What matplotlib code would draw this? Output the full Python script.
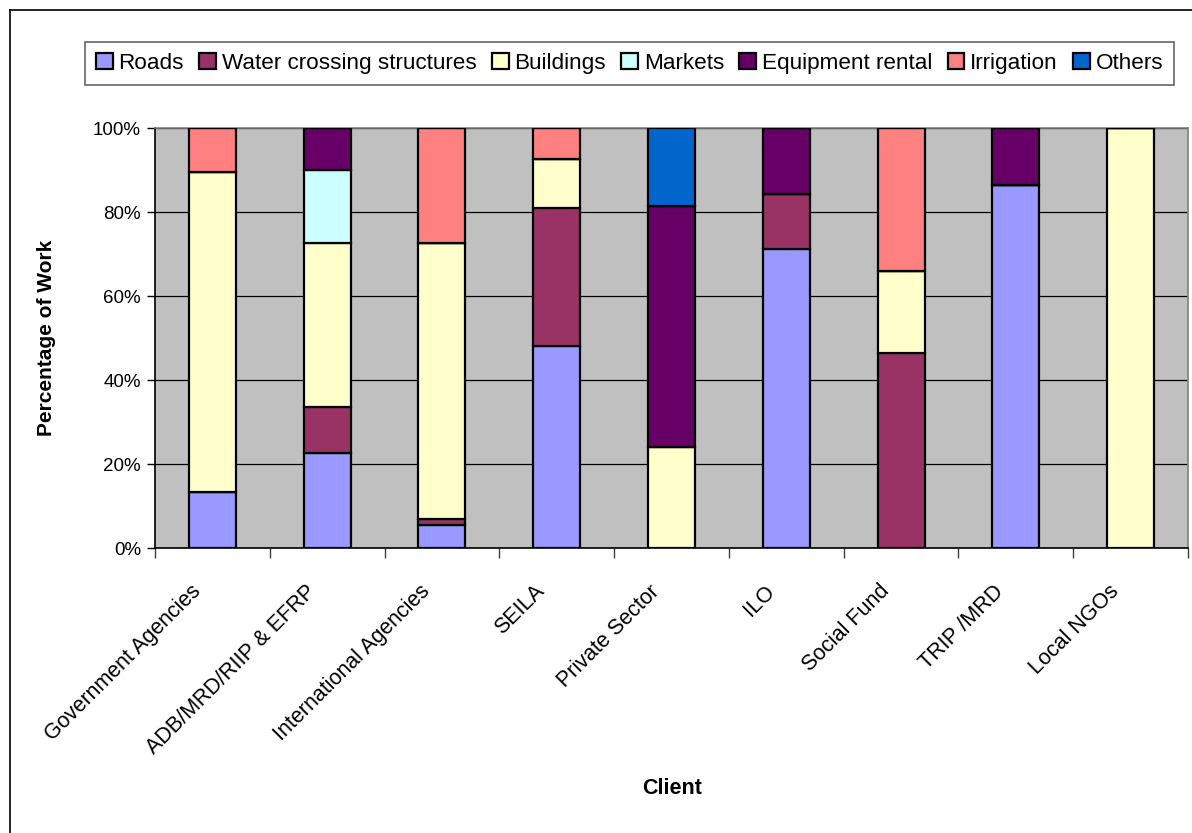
import matplotlib
matplotlib.use("Agg")
import matplotlib.pyplot as plt
import numpy as np
from matplotlib.lines import Line2D
from matplotlib.transforms import ScaledTranslation

plt.rcParams['font.family'] = ['Liberation Sans', 'DejaVu Sans']

# data (percent of work per client)
clients = ["Government Agencies", "ADB/MRD/RIIP & EFRP", "International Agencies",
           "SEILA", "Private Sector", "ILO", "Social Fund", "TRIP /MRD", "Local NGOs"]
roads = [13.5, 22.8, 5.5, 48.2, 0, 71.3, 0, 86.6, 0]
water = [0, 10.9, 1.5, 32.8, 0, 13.1, 46.4, 0, 0]
buildings = [76.0, 38.9, 65.7, 11.6, 24.0, 0, 19.7, 0, 100]
markets = [0, 17.5, 0, 0, 0, 0, 0, 0, 0]
equipment = [0, 9.9, 0, 0, 57.5, 15.6, 0, 13.4, 0]
irrigation = [10.5, 0, 27.3, 7.4, 0, 0, 33.9, 0, 0]
others = [0, 0, 0, 0, 18.5, 0, 0, 0, 0]

series = [("Roads", roads, "#9999FF"),
          ("Water crossing structures", water, "#993366"),
          ("Buildings", buildings, "#FFFFCC"),
          ("Markets", markets, "#CCFFFF"),
          ("Equipment rental", equipment, "#660066"),
          ("Irrigation", irrigation, "#FF8080"),
          ("Others", others, "#0066CC")]

fig = plt.figure(figsize=(11.92, 8.33), dpi=100)
ax = fig.add_axes([155 / 1192, 1 - 548.3 / 833, (1188 - 155) / 1192, 420 / 833])
ax.set_facecolor("#C0C0C0")

x = np.arange(len(clients))
bottom = np.zeros(len(clients))
for name, vals, col in series:
    vals = np.array(vals, dtype=float)
    ax.bar(x, vals, 0.41, bottom=bottom, color=col, edgecolor="black",
           linewidth=1.6, label=name, zorder=3)
    bottom += vals

ax.set_xlim(-0.5, len(clients) - 0.5)
ax.set_ylim(0, 100)
ax.set_yticks(np.arange(0, 101, 20))
ax.set_yticklabels([f"{v}%" for v in range(0, 101, 20)], fontsize=13.5)
ax.yaxis.grid(True, color="black", linewidth=0.9, zorder=0)
ax.set_axisbelow(True)

ax.set_xticks(x)
ax.set_xticklabels(clients, rotation=45, ha="right", va="center",
                   rotation_mode="anchor", fontsize=15.5)
ax.tick_params(axis="x", which="major", length=0, pad=0)
# shift rotated labels so they end just left of / below each bar
offset = ScaledTranslation(-15 / 100, -40 / 100, fig.dpi_scale_trans)
for lab in ax.get_xticklabels():
    lab.set_transform(lab.get_transform() + offset)
ax.set_xticks(np.arange(-0.5, len(clients), 1), minor=True)
ax.tick_params(axis="x", which="minor", length=7, width=1, color="#404040")
ax.tick_params(axis="y", length=6, width=1, direction="out", pad=4)

for s in ["left", "bottom"]:
    ax.spines[s].set_color("black")
    ax.spines[s].set_linewidth(1.2)
for s in ["top", "right"]:
    ax.spines[s].set_color("#808080")
    ax.spines[s].set_linewidth(1.2)

fig.text(47 / 1192, 1 - 338 / 833, "Percentage of Work", fontsize=15, fontweight="bold",
         rotation=90, ha="center", va="center")
fig.text(672 / 1192, 1 - 788 / 833, "Client", fontsize=15.5, fontweight="bold",
         ha="center", va="center")

leg = fig.legend(loc="center", bbox_to_anchor=(629.5 / 1192, 1 - 63.5 / 833),
                 ncol=7, fontsize=16.2, frameon=True, fancybox=False,
                 handlelength=0.75, handleheight=0.75, handletextpad=0.25,
                 columnspacing=0.68, borderpad=0.5, borderaxespad=0)
leg.get_frame().set_edgecolor("#404040")
leg.get_frame().set_linewidth(1.2)

# outer chart border (left and top edges visible)
fig.add_artist(Line2D([9.5 / 1192, 9.5 / 1192], [0, 1 - 10 / 833], color="black",
                      linewidth=1.2, transform=fig.transFigure))
fig.add_artist(Line2D([9.5 / 1192, 1], [1 - 10 / 833, 1 - 10 / 833], color="black",
                      linewidth=1.2, transform=fig.transFigure))

fig.savefig("out.png", dpi=100)
